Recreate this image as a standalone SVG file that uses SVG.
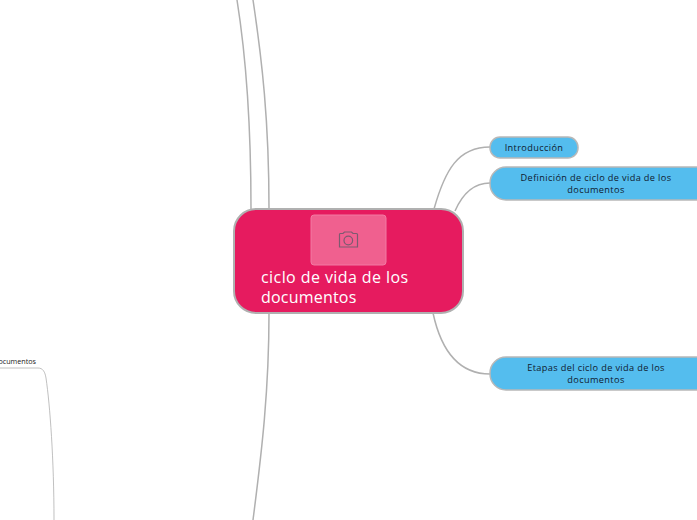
<svg xmlns="http://www.w3.org/2000/svg" width="697" height="520" viewBox="0 0 697 520">
<style>
.c{fill:none;stroke:#b0b0b0;stroke-width:1.5}
.t{stroke:#b8b8b8;stroke-width:1.5;fill:#54bdee}
text{font-family:"Open Sans","Noto Sans",sans-serif}
.l{font-size:9.2px;fill:#0f1a2e;text-anchor:middle;letter-spacing:.36px;font-weight:500}
</style>
<rect width="697" height="520" fill="#fff"/>
<g id="connectors">
<path class="c" d="M237 0C245 50 251 110 251 209"/>
<path class="c" d="M253 0C262 60 269 120 269 209"/>
<path class="c" d="M269 313C269 390 262 450 253 520"/>
<path class="c" d="M434 209C445 170 458 147 490 147"/>
<path class="c" d="M455 211C462 195 472 183 490 183"/>
<path class="c" d="M433 313C441 350 458 374 490 374"/>
<path d="M0 368H38C43 368 45 372 46 378C50 405 54 460 54 520" fill="none" stroke="#b0b0b0" stroke-width=".8"/>
</g>
<g id="root">
<rect x="234" y="209" width="229" height="104" rx="22" fill="#e61b5f" stroke="#b0b0b0" stroke-width="2"/>
<rect x="311" y="215" width="75" height="50" rx="3" fill="#f0608f" stroke="#f27ba3" stroke-width="1"/>
<g fill="none" stroke="#7d5a70" stroke-width="1.2">
<path d="M340 233.500H343L344.500 232H351.500L353 233.500H356.500Q357.500 233.500 357.500 234.500V247H339.500V234.500Q339.500 233.500 340 233.500Z"/>
<circle cx="348.300" cy="240.500" r="4.300"/>
</g>
<text x="261" y="283" font-size="16" fill="#fff" letter-spacing=".42">ciclo de vida de los</text>
<text x="261" y="303" font-size="16" fill="#fff" letter-spacing=".2">documentos</text>
</g>
<g id="n1">
<rect class="t" x="490" y="137" width="88" height="21" rx="10"/>
<text class="l" x="534" y="151">Introducción</text>
</g>
<g id="n2">
<rect class="t" x="490" y="167" width="222" height="33" rx="16"/>
<text class="l" x="596" y="180.500">Definición de ciclo de vida de los</text>
<text class="l" x="596" y="192.500">documentos</text>
</g>
<g id="n3">
<rect class="t" x="490" y="357" width="222" height="33" rx="16"/>
<text class="l" x="596" y="371">Etapas del ciclo de vida de los</text>
<text class="l" x="596" y="383">documentos</text>
</g>
<g id="n4">
<text x="36" y="364" font-size="7.200" fill="#222" text-anchor="end">documentos</text>
</g>
</svg>
